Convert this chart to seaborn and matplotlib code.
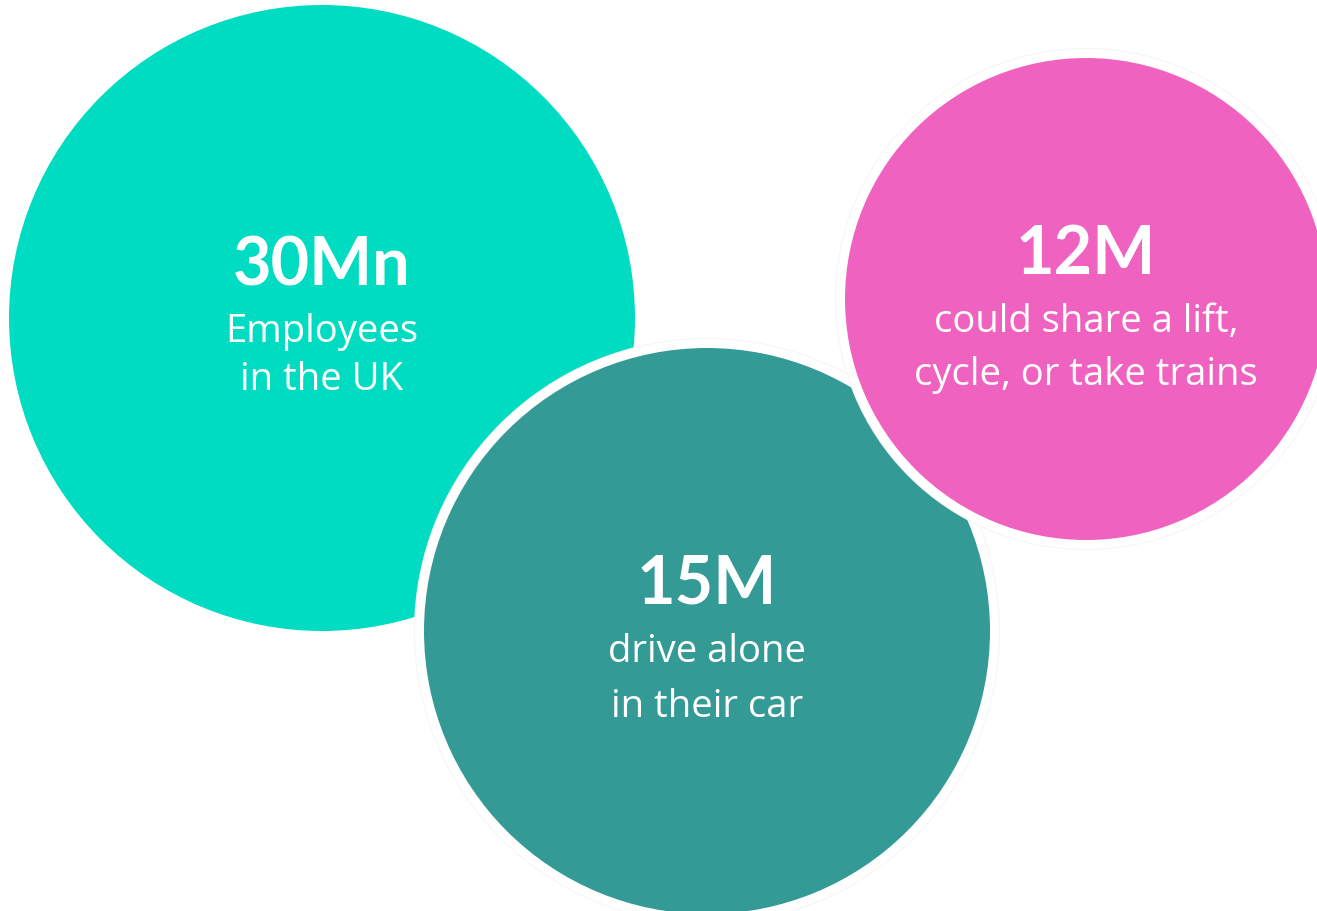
import matplotlib
matplotlib.use("Agg")
import matplotlib.pyplot as plt
from matplotlib.patches import Circle
import seaborn as sns

# ---- data ----
values = ["30Mn", "15M", "12M"]
captions = [["Employees", "in the UK"],
            ["drive alone", "in their car"],
            ["could share a lift,", "cycle, or take trains"]]
colors = ["#00DCC2", "#349A96", "#F062C0"]

# ---- layout (pixels) ----
W, H = 1317, 911
centers = [(322, 318), (707, 631), (1086, 299)]
radii = [313, 283, 241]
gap = 9  # white separation band, px
value_base = [285, 603, 274]
caption_base = [[342, 390], [662, 717], [332, 385]]

sns.set_theme(style="white")
plt.rcParams['font.family'] = ['Open Sans', 'DejaVu Sans']

dpi = 100
fig = plt.figure(figsize=(W / dpi, H / dpi), dpi=dpi)
ax = fig.add_axes([0, 0, 1, 1])
ax.set_xlim(0, W)
ax.set_ylim(H, 0)
ax.set_aspect("equal")
ax.axis("off")

px2pt = 72 / dpi
for i, (c, r, col) in enumerate(zip(centers, radii, colors)):
    if i == 0:
        ax.add_patch(Circle(c, r, facecolor=col, edgecolor="none", zorder=1))
    else:
        ax.add_patch(Circle(c, r + gap / 2 + 0.5, facecolor="none", edgecolor="#f5f5f5",
                            linewidth=(gap + 1) * px2pt, zorder=2 * i))
        ax.add_patch(Circle(c, r + gap / 2, facecolor=col, edgecolor="white",
                            linewidth=gap * px2pt, zorder=2 * i + 1))
    ax.text(c[0], value_base[i], values[i], ha="center", va="baseline", color="white",
            fontsize=48, fontweight="bold", family=['Lato', 'DejaVu Sans'], zorder=10)
    for line, yb in zip(captions[i], caption_base[i]):
        ax.text(c[0], yb, line, ha="center", va="baseline", color="white",
                fontsize=27.5, zorder=10)

fig.savefig("out.png", dpi=dpi, facecolor="white")
